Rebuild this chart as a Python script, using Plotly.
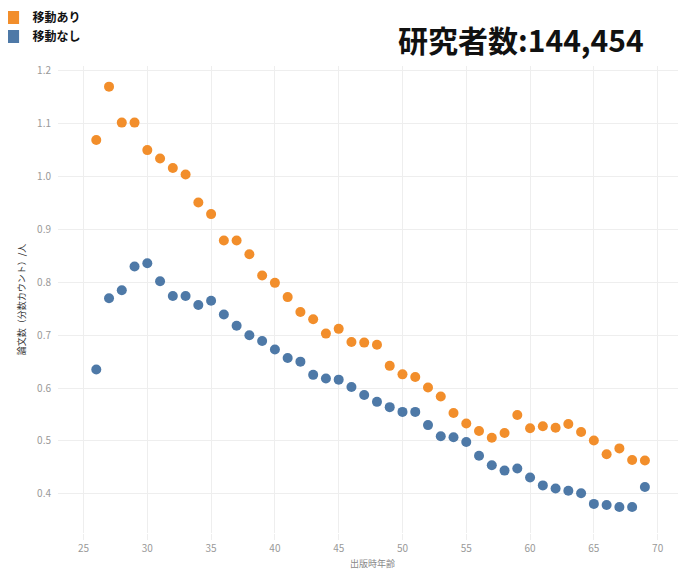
import plotly.graph_objects as go

ages = list(range(26, 70))
moved = [1.069, 1.170, 1.102, 1.102, 1.050, 1.034, 1.016, 1.004, 0.951, 0.929,
         0.879, 0.879, 0.853, 0.813, 0.799, 0.772, 0.744, 0.730, 0.703, 0.712,
         0.687, 0.686, 0.682, 0.642, 0.626, 0.621, 0.601, 0.584, 0.553, 0.533,
         0.519, 0.506, 0.515, 0.549, 0.524, 0.528, 0.525, 0.532, 0.517, 0.501,
         0.475, 0.486, 0.464, 0.463]
not_moved = [0.635, 0.770, 0.785, 0.830, 0.836, 0.802, 0.774, 0.774, 0.757, 0.765,
             0.739, 0.718, 0.700, 0.689, 0.673, 0.657, 0.650, 0.625, 0.618, 0.616,
             0.602, 0.587, 0.574, 0.564, 0.555, 0.555, 0.530, 0.509, 0.507, 0.498,
             0.472, 0.454, 0.444, 0.448, 0.431, 0.416, 0.410, 0.406, 0.401, 0.381,
             0.379, 0.375, 0.375, 0.413]
series_names = ["移動あり", "移動なし"]
colors = ["#F28E2B", "#4E79A7"]
x_ticks = [25, 30, 35, 40, 45, 50, 55, 60, 65, 70]
y_ticks = [0.4, 0.5, 0.6, 0.7, 0.8, 0.9, 1.0, 1.1, 1.2]
title_text = "研究者数:144,454"
x_title = "出版時年齢"
y_title = "論文数（分数カウント）/人"

fig = go.Figure()
for name, vals, c in zip(series_names, [moved, not_moved], colors):
    fig.add_trace(go.Scatter(x=ages, y=vals, mode="markers", name=name,
                             marker=dict(color=c, size=10, line=dict(width=0)),
                             showlegend=False))
for name, c in zip(series_names, colors):
    fig.add_trace(go.Scatter(x=[None], y=[None], mode="markers", name=name,
                             marker=dict(color=c, size=13, symbol="square"),
                             showlegend=True))

fig.update_layout(
    width=686, height=575,
    margin=dict(l=50, r=7, t=58, b=50, autoexpand=False),
    paper_bgcolor="white", plot_bgcolor="white",
    font=dict(family="Noto Sans CJK JP", color="#999999", size=10),
    legend=dict(x=-0.104, y=1.135, xanchor="left", yanchor="top",
                font=dict(size=12, color="#111111", family="Noto Sans CJK JP", weight="bold"),
                bgcolor="rgba(0,0,0,0)", tracegroupgap=0, itemwidth=30),
    xaxis=dict(range=[23.0, 72.3], tickvals=x_ticks, showgrid=True,
               gridcolor="#eeeeee", zeroline=False, showline=False,
               ticks="outside", ticklen=6, tickcolor="#eeeeee",
               title=dict(text=x_title, font=dict(size=9, color="#888888"), standoff=6)),
    yaxis=dict(range=[0.326, 1.209], tickvals=y_ticks, tickformat=".1f",
               showgrid=True, gridcolor="#eeeeee", zeroline=False, showline=False,
               ticks="outside", ticklen=4, tickcolor="white",
               title=dict(text=y_title, font=dict(size=9, color="#333333"), standoff=9)),
    annotations=[dict(text=title_text, xref="paper", yref="paper",
                      x=0.935, y=1.058, xanchor="right", yanchor="middle", showarrow=False,
                      font=dict(size=30, color="#111111", family="Noto Sans CJK JP", weight="bold"))],
)

fig.write_html("out.html")
